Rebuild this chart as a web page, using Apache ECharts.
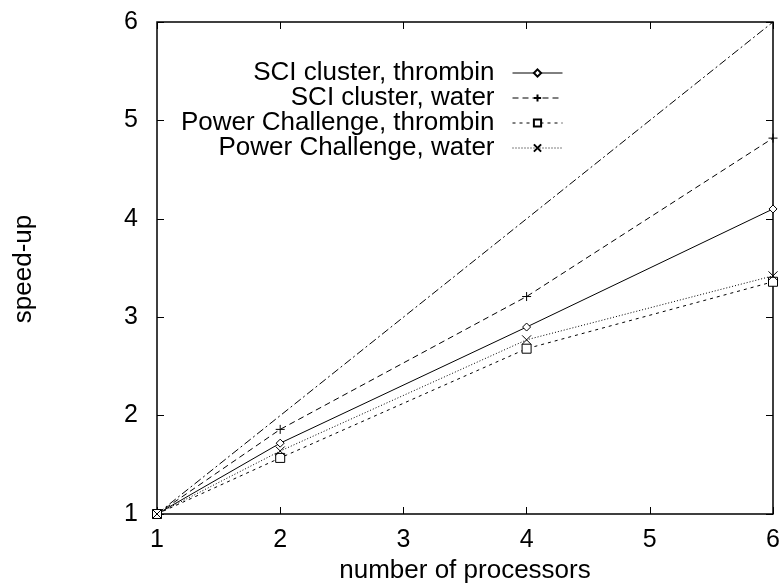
<!DOCTYPE html>
<html>
<head>
<meta charset="utf-8">
<script src="https://cdn.jsdelivr.net/npm/echarts@6/dist/echarts.min.js"></script>
<style>html,body{margin:0;padding:0;background:#fff;}#c{width:781px;height:583px;}</style>
</head>
<body>
<div id="c"></div>
<script>
var processors = [1, 2, 4, 6];
var sciThrombin = [1, 1.72, 2.90, 4.10];
var sciWater = [1, 1.86, 3.21, 4.82];
var pcThrombin = [1, 1.57, 2.68, 3.36];
var pcWater = [1, 1.64, 2.77, 3.42];
var idealX = [1, 6];
var idealY = [1, 6];
var xTicks = [1, 2, 3, 4, 5, 6];
var yTicks = [1, 2, 3, 4, 5, 6];
var seriesNames = ['SCI cluster, thrombin', 'SCI cluster, water', 'Power Challenge, thrombin', 'Power Challenge, water'];

function pairs(xs, ys) { return xs.map(function (x, i) { return [x, ys[i]]; }); }

var FONT = 'Liberation Sans';
var chart = echarts.init(document.getElementById('c'), null, { renderer: 'canvas' });

function mk(name, ys, dash, symbol, size) {
  return {
    name: name, type: 'line', data: pairs(processors, ys),
    symbol: symbol, symbolSize: size, showSymbol: true,
    lineStyle: { color: '#000', width: 1, type: dash },
    itemStyle: { color: '#fff', borderColor: '#000', borderWidth: 1 },
    emphasis: { disabled: true }, animation: false, z: 3
  };
}

var axisCommon = {
  type: 'value', min: 1, max: 6, interval: 1,
  axisLine: { show: false },
  axisTick: { show: true, inside: true, length: 7, lineStyle: { color: '#000', width: 1 } },
  splitLine: { show: false }
};

chart.setOption({
  backgroundColor: '#fff',
  animation: false,
  grid: { left: 157, right: 8, top: 22, bottom: 69, outerBoundsMode: 'none', containLabel: false,
    show: true, borderColor: '#000', borderWidth: 1.5, backgroundColor: 'transparent' },
  xAxis: [
    Object.assign({}, axisCommon, {
      position: 'bottom',
      axisLabel: { show: true, margin: 14, color: '#000', fontFamily: FONT, fontSize: 25,
        formatter: function (v) { return xTicks.indexOf(v) >= 0 ? String(v) : ''; } },
      name: 'number of processors', nameLocation: 'middle', nameGap: 43,
      nameTextStyle: { color: '#000', fontFamily: FONT, fontSize: 26 }
    }),
    Object.assign({}, axisCommon, { position: 'top', axisLabel: { show: false } })
  ],
  yAxis: [
    Object.assign({}, axisCommon, {
      position: 'left',
      axisLabel: { show: true, margin: 19, color: '#000', fontFamily: FONT, fontSize: 25,
        formatter: function (v) { return yTicks.indexOf(v) >= 0 ? String(v) : ''; } }
    }),
    Object.assign({}, axisCommon, { position: 'right', axisLabel: { show: false } })
  ],
  legend: {
    data: seriesNames,
    orient: 'vertical', align: 'right',
    right: 213, top: 55,
    itemWidth: 50, itemHeight: 9, itemGap: -1,
    selectedMode: false,
    lineStyle: { width: 1 },
    textStyle: { color: '#000', fontFamily: FONT, fontSize: 26, lineHeight: 24, padding: [0, 13, 0, 0] }
  },
  graphic: [{
    type: 'text', x: 24, y: 269, rotation: Math.PI / 2,
    style: { text: 'speed-up', fill: '#000', font: '26px "Liberation Sans"', align: 'center', verticalAlign: 'middle' }
  }],
  series: [
    mk(seriesNames[0], sciThrombin, 'solid', 'diamond', 8),
    mk(seriesNames[1], sciWater, [6, 4], 'path://M0,-1L0,1M-1,0L1,0', 9),
    mk(seriesNames[2], pcThrombin, [3, 4], 'rect', 9),
    mk(seriesNames[3], pcWater, [1, 2], 'path://M-1,-1L1,1M-1,1L1,-1', 9),
    {
      name: 'ideal', type: 'line', data: pairs(idealX, idealY), symbol: 'none',
      lineStyle: { color: '#000', width: 1, type: [8, 3, 2, 3] }, emphasis: { disabled: true }, z: 2
    }
  ]
});
</script>
</body>
</html>
